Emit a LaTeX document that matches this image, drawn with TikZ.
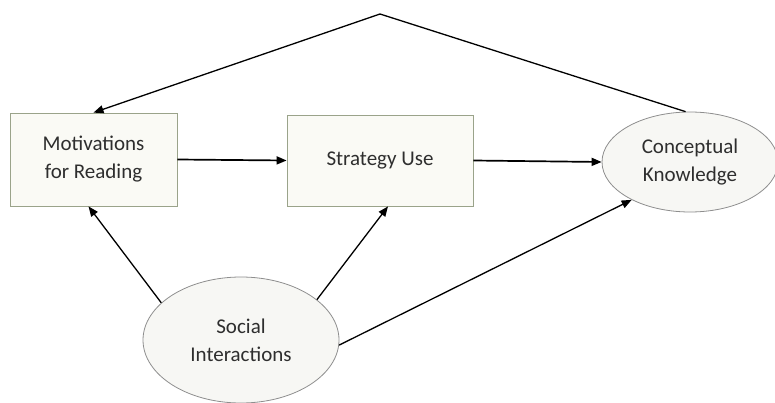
\documentclass[tikz,border=0pt]{standalone}
\usepackage{fontspec}
\setmainfont{Carlito}
\usetikzlibrary{arrows.meta,shapes.geometric}
\definecolor{boxline}{HTML}{9AA38A}
\definecolor{boxfill}{HTML}{FAFAF5}
\definecolor{ovalline}{HTML}{8E8E8E}
\definecolor{ovalfill}{HTML}{F7F7F4}
\definecolor{txt}{HTML}{2E2E2E}

\begin{document}
\begin{tikzpicture}[x=1pt,y=-1pt,
    every node/.style={font=\fontsize{21}{28}\selectfont, text=txt, align=center},
    factor/.style={draw=boxline, fill=boxfill, line width=0.8pt, rectangle},
    latent/.style={draw=ovalline, fill=ovalfill, line width=0.8pt, ellipse, inner sep=0pt},
    link/.style={-{Triangle[length=10pt,width=8pt]}, line width=1.3pt, black}]
  \useasboundingbox (0,0) rectangle (775,403);
  \node[factor, minimum width=167pt, minimum height=93pt] (mot) at (93.5,159.5) {Motivations\\for Reading};
  \node[factor, minimum width=186pt, minimum height=91pt] (strat) at (380,160.5) {Strategy Use};
  \node[latent, minimum width=176pt, minimum height=100pt] (conc) at (690,162) {Conceptual\\Knowledge};
  \node[latent, minimum width=196pt, minimum height=126pt] (soc) at (241,340) {Social\\Interactions};
  \coordinate (apex) at (380,14);

  \draw[link, line width=1.7pt] (mot.east) -- (strat.west);
  \draw[link, line width=1.7pt] (strat.east) -- (conc.west);
  \draw[link] (conc.95) -- (apex) -- (mot.north);
  \draw[link] (soc.155) -- ([xshift=-5pt]mot.south);
  \draw[link] (soc.28) -- ([xshift=8pt]strat.south);
  \draw[link] (soc.-3) -- (conc.213);
\end{tikzpicture}
\end{document}
